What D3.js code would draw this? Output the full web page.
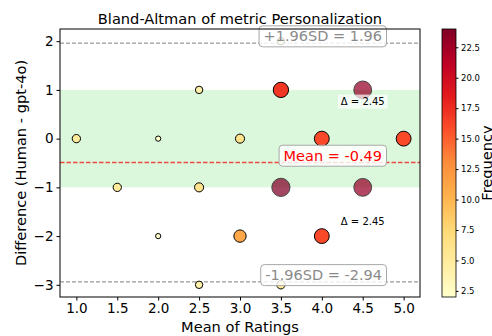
<!DOCTYPE html>
<html>
<head>
<meta charset="utf-8">
<script src="https://cdn.jsdelivr.net/npm/d3@7"></script>
<style>
  body { margin: 0; background: #fff; }
  text { font-family: "DejaVu Sans", sans-serif; }
</style>
</head>
<body>
<svg id="chart" width="492" height="336"></svg>
<script>
// data
var meanX = [1.0, 1.5, 2.0, 2.0, 2.5, 2.5, 2.5, 3.0, 3.0, 3.5, 3.5, 3.5, 3.5, 4.0, 4.0, 4.5, 4.5, 5.0];
var diffY = [0, -1, 0, -2, 1, -1, -3, 0, -2, 2, 1, -1, -3, 0, -2, 1, -1, 0];
var freq  = [5, 5, 2, 2, 4, 6, 4, 6, 11, 4, 17, 24, 5, 16, 16, 23, 23, 16];

var meanDiff = -0.49;
var upperLoA = 1.96;
var lowerLoA = -2.94;
var bandLimits = [-1, 1];

var deltaLabels = ['\u0394 = 2.45', '\u0394 = 2.45'];
var deltaX = [4.5, 4.5];
var deltaY = [0.76, -1.71];

var xTicks = [1.0, 1.5, 2.0, 2.5, 3.0, 3.5, 4.0, 4.5, 5.0];
var yTicks = [2, 1, 0, -1, -2, -3];
var cbTicks = [2.5, 5.0, 7.5, 10.0, 12.5, 15.0, 17.5, 20.0, 22.5];

var svg = d3.select('#chart');
var plot = { left: 60, right: 420, top: 29, bottom: 297 };

var x = d3.scaleLinear().domain([0.8, 5.2]).range([plot.left, plot.right]);
var y = d3.scaleLinear().domain([-3.25, 2.25]).range([plot.bottom, plot.top]);

// YlOrRd like matplotlib
var ylorrd = ['#ffffcc', '#ffeda0', '#fed976', '#feb24c', '#fd8d3c', '#fc4e2a', '#e31a1c', '#bd0026', '#800026'];
var fMin = 2, fMax = 24;
var color = d3.scaleLinear()
    .domain(ylorrd.map((c, i) => fMin + (fMax - fMin) * i / (ylorrd.length - 1)))
    .range(ylorrd);
var radius = d3.scaleSqrt().domain([0, 24]).range([0, 9.1]);

// green band
svg.append('rect')
    .attr('x', plot.left)
    .attr('y', y(bandLimits[1]))
    .attr('width', plot.right - plot.left)
    .attr('height', y(bandLimits[0]) - y(bandLimits[1]))
    .attr('fill', '#dbf7dc');

// limit lines
[upperLoA, lowerLoA].forEach(v => {
    svg.append('line')
        .attr('x1', plot.left).attr('x2', plot.right)
        .attr('y1', y(v)).attr('y2', y(v))
        .attr('stroke', '#808080')
        .attr('stroke-width', 1)
        .attr('stroke-dasharray', '4,2');
});
svg.append('line')
    .attr('x1', plot.left).attr('x2', plot.right)
    .attr('y1', y(meanDiff)).attr('y2', y(meanDiff))
    .attr('stroke', '#ee4b40')
    .attr('stroke-width', 1.4)
    .attr('stroke-dasharray', '4.5,2');

// points
var pts = meanX.map((d, i) => ({ x: d, y: diffY[i], f: freq[i] }));
svg.append('g')
    .selectAll('circle')
    .data(pts)
    .enter()
    .append('circle')
    .attr('cx', d => x(d.x))
    .attr('cy', d => y(d.y))
    .attr('r', d => radius(d.f))
    .attr('fill', d => color(d.f))
    .attr('stroke', '#000')
    .attr('stroke-width', 1)
    .attr('opacity', d => d.f > 20 ? 0.72 : 1);

// delta annotations
deltaLabels.forEach((t, i) => {
    var g = svg.append('g').attr('transform', `translate(${x(deltaX[i])},${y(deltaY[i])})`);
    var txt = g.append('text')
        .attr('text-anchor', 'middle')
        .attr('dy', '0.35em')
        .attr('font-size', 10)
        .attr('fill', '#000')
        .text(t);
    var bb = txt.node().getBBox();
    g.insert('rect', 'text')
        .attr('x', bb.x - 3).attr('y', bb.y - 1.5)
        .attr('width', bb.width + 6).attr('height', bb.height + 3)
        .attr('fill', '#fff').attr('opacity', 0.7);
});

// line labels with boxes
function boxLabel(v, text, col) {
    var g = svg.append('g').attr('transform', `translate(382,${y(v) - 7})`);
    var txt = g.append('text')
        .attr('text-anchor', 'end')
        .attr('dy', '0.36em')
        .attr('font-size', 14.5)
        .attr('fill', col)
        .text(text);
    var bb = txt.node().getBBox();
    g.insert('rect', 'text')
        .attr('x', bb.x - 4.5).attr('y', bb.y - 2.5)
        .attr('width', bb.width + 9).attr('height', bb.height + 5)
        .attr('rx', 3.5)
        .attr('fill', 'rgba(255,255,255,0.82)')
        .attr('stroke', '#a8a8a8')
        .attr('stroke-width', 1);
}
boxLabel(upperLoA, '+1.96SD = ' + upperLoA.toFixed(2), '#8a8a8a');
boxLabel(meanDiff, 'Mean = ' + meanDiff.toFixed(2), '#ff0000');
boxLabel(lowerLoA, '-1.96SD = ' + lowerLoA.toFixed(2), '#8a8a8a');

// axes
var xAxis = svg.append('g')
    .attr('transform', `translate(0,${plot.bottom})`)
    .call(d3.axisBottom(x).tickValues(xTicks).tickFormat(d3.format('.1f')).tickSize(3.5).tickPadding(3));
var yAxis = svg.append('g')
    .attr('transform', `translate(${plot.left},0)`)
    .call(d3.axisLeft(y).tickValues(yTicks).tickFormat(d => d < 0 ? '\u2212' + Math.abs(d) : d).tickSize(3.5).tickPadding(3));
[xAxis, yAxis].forEach(a => {
    a.select('.domain').remove();
    a.selectAll('text').attr('font-size', 13.5).attr('fill', '#000').style('font-family', '"DejaVu Sans", sans-serif');
    a.selectAll('line').attr('stroke', '#000');
});

// frame
svg.append('rect')
    .attr('x', plot.left).attr('y', plot.top)
    .attr('width', plot.right - plot.left).attr('height', plot.bottom - plot.top)
    .attr('fill', 'none').attr('stroke', '#000').attr('stroke-width', 1);

// titles
svg.append('text')
    .attr('x', (plot.left + plot.right) / 2).attr('y', 24)
    .attr('text-anchor', 'middle').attr('font-size', 14.6)
    .text('Bland-Altman of metric Personalization');
svg.append('text')
    .attr('x', (plot.left + plot.right) / 2).attr('y', 332)
    .attr('text-anchor', 'middle').attr('font-size', 14.6)
    .text('Mean of Ratings');
svg.append('text')
    .attr('transform', `translate(26,${(plot.top + plot.bottom) / 2}) rotate(-90)`)
    .attr('text-anchor', 'middle').attr('font-size', 14.6)
    .text('Difference (Human - gpt-4o)');

// colorbar
var cb = { left: 442, right: 456, top: 29, bottom: 297 };
var defs = svg.append('defs');
var grad = defs.append('linearGradient')
    .attr('id', 'cbgrad')
    .attr('x1', 0).attr('y1', 1).attr('x2', 0).attr('y2', 0);
ylorrd.forEach((c, i) => {
    grad.append('stop').attr('offset', i / (ylorrd.length - 1)).attr('stop-color', c);
});
svg.append('rect')
    .attr('x', cb.left).attr('y', cb.top)
    .attr('width', cb.right - cb.left).attr('height', cb.bottom - cb.top)
    .attr('fill', 'url(#cbgrad)')
    .attr('stroke', '#000').attr('stroke-width', 0.8);
var cbScale = d3.scaleLinear().domain([fMin, fMax]).range([cb.bottom, cb.top]);
var cbAxis = svg.append('g')
    .attr('transform', `translate(${cb.right},0)`)
    .call(d3.axisRight(cbScale).tickValues(cbTicks).tickFormat(d3.format('.1f')).tickSize(2.5).tickPadding(2.5));
cbAxis.select('.domain').remove();
cbAxis.selectAll('text').attr('font-size', 8.5).attr('fill', '#000').style('font-family', '"DejaVu Sans", sans-serif');
cbAxis.selectAll('line').attr('stroke', '#000');
svg.append('text')
    .attr('transform', `translate(492,${(cb.top + cb.bottom) / 2}) rotate(-90)`)
    .attr('text-anchor', 'middle').attr('font-size', 14.6)
    .text('Frequency');
</script>
</body>
</html>
